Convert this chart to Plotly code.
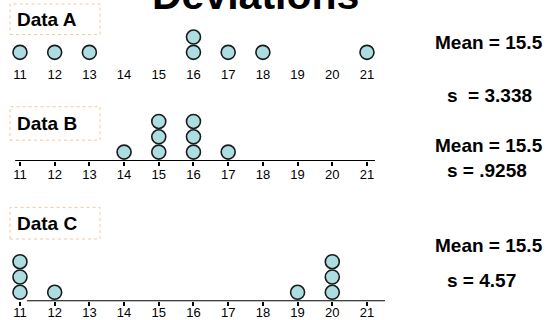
import plotly.graph_objects as go
from collections import Counter

# ---- data ----
ticks = list(range(11, 22))
tick_labels = [str(t) for t in ticks]
data_a = [11, 12, 13, 16, 16, 17, 18, 21]
data_b = [14, 15, 15, 15, 16, 16, 16, 17]
data_c = [11, 11, 11, 12, 19, 20, 20, 20]
names = ["Data A", "Data B", "Data C"]
means = ["Mean = 15.5", "Mean = 15.5", "Mean = 15.5"]
sds = ["s  = 3.338", "s = .9258", "s = 4.57"]

W, H = 556, 320
fig = go.Figure()

def stack(vals):
    seen = Counter()
    xs, ys = [], []
    for v in vals:
        seen[v] += 1
        xs.append(v)
        ys.append(seen[v] - 0.42)
    return xs, ys

# panel geometry (pixels from top): baseline, top
panels = [(62, 0), (163, 101), (305, 243)]
xdom = [0.9 / W, 387.8 / W]
xrange_ = [10.45, 21.6]
datasets = [data_a, data_b, data_c]

for i, (vals, (base, top)) in enumerate(zip(datasets, panels)):
    n = "" if i == 0 else str(i + 1)
    xs, ys = stack(vals)
    fig.add_trace(go.Scatter(
        x=xs, y=ys, mode="markers", xaxis="x" + n, yaxis="y" + n,
        marker=dict(size=14, color="#acdde0", line=dict(color="#1a1a1a", width=1.6)),
        cliponaxis=False, hoverinfo="skip", showlegend=False))
    fig.update_layout(**{
        "xaxis" + n: dict(domain=xdom, range=xrange_, anchor="y" + n,
                          tickmode="array", tickvals=ticks, ticktext=tick_labels,
                          showgrid=False, zeroline=False, showline=False,
                          ticks="outside", ticklen=4, tickwidth=2,
                          tickcolor="rgba(0,0,0,0)" if i == 0 else "black",
                          ticklabelstandoff=-3 if i < 2 else -5,
                          tickfont=dict(family="Liberation Sans Narrow, Arial Narrow, Arial", size=13,
                                        color="#000")),
        "yaxis" + n: dict(domain=[1 - base / H, 1 - top / H], range=[0, 4], anchor="x" + n,
                          visible=False, fixedrange=True),
    })

# axis lines for panels B and C
line_ext = [None, (10.86, 21.23), (11.2, 21.52)]
for i in (1, 2):
    n = str(i + 1)
    x0, x1 = line_ext[i]
    fig.add_shape(type="line", xref="x" + n, yref="y" + n, x0=x0, x1=x1, y0=0, y1=0,
                  line=dict(color="black", width=2))

# label boxes
boxes = [(4, 35), (108, 142), (210, 242)]
for name, (t, b) in zip(names, boxes):
    fig.add_shape(type="rect", xref="paper", yref="paper", x0=10 / W, x1=100 / W,
                  y0=1 - b / H, y1=1 - t / H, line=dict(color="#f5c99a", width=1, dash="dot"))
    fig.add_annotation(text="<b>" + name + "</b>", xref="paper", yref="paper",
                       x=15 / W, y=1 - (t + b) / 2 / H, xanchor="left", yanchor="middle",
                       showarrow=False, font=dict(family="Arial", size=19, color="black"))

# stats text
mean_y = [43, 147, 249]
sd_y = [97, 173, 284]
for m, s, my, sy in zip(means, sds, mean_y, sd_y):
    fig.add_annotation(text="<b>" + m + "</b>", xref="paper", yref="paper", x=433 / W,
                       y=1 - my / H, xanchor="left", yanchor="middle", showarrow=False,
                       font=dict(family="Arial", size=19, color="black"))
    fig.add_annotation(text="<b>" + s + "</b>", xref="paper", yref="paper", x=445 / W,
                       y=1 - sy / H, xanchor="left", yanchor="middle", showarrow=False,
                       font=dict(family="Arial", size=19, color="black"))

# title (cut off at top, as in the reference)
fig.add_annotation(text="<b>Deviations</b>", xref="paper", yref="paper", x=150 / W,
                   y=1 - 20 / H, xanchor="left", yanchor="bottom", showarrow=False,
                   font=dict(family="Arial", size=41, color="black"))

fig.update_layout(width=W, height=H, margin=dict(l=0, r=0, t=0, b=0),
                  paper_bgcolor="white", plot_bgcolor="white")
fig.write_html("out.html", config={"displayModeBar": False},
               post_script="document.body.style.margin='0';")
